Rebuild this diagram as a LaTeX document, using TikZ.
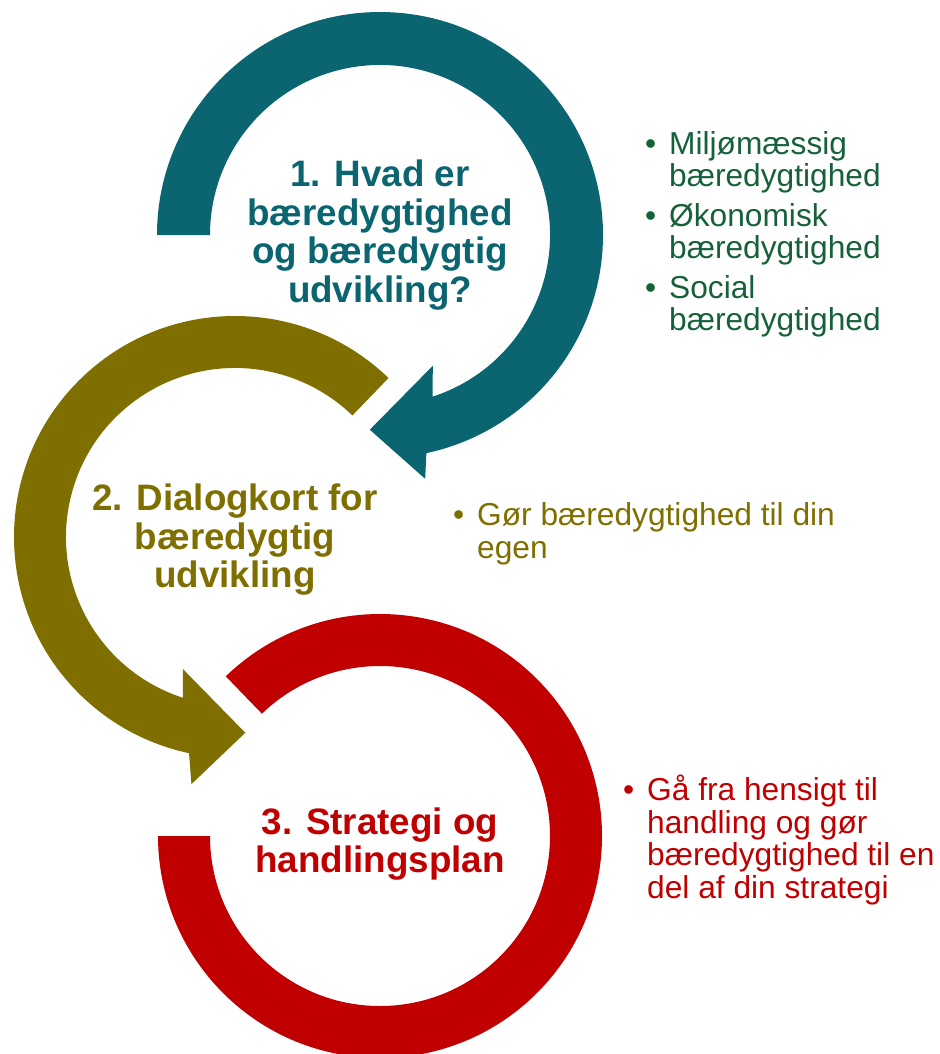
\documentclass[tikz,border=0pt]{standalone}
\usepackage{fontspec}
\setmainfont{Liberation Sans}
\usepackage{tikz}
\usetikzlibrary{calc}
\definecolor{petrol}{HTML}{0A6570}
\definecolor{oliven}{HTML}{7F6F00}
\definecolor{moerkroed}{HTML}{C00000}
\definecolor{skovgroen}{HTML}{17613A}
\tikzstyle{titel}=[align=center,inner sep=0pt,font=\fontsize{36.8}{38.5}\selectfont\bfseries]
\tikzstyle{punkt}=[align=left,anchor=base west,inner sep=0pt,font=\fontsize{31.7}{32.5}\selectfont]
\newcommand{\pkt}{\llap{\textbullet\hspace{13pt}}}

\begin{document}
\begin{tikzpicture}[x=1pt,y=1pt]
\clip (0,0) rectangle (939,-1054);
\coordinate (c1) at (380,-235);
\coordinate (c2) at (235,-537);
\coordinate (c3) at (380,-836);
% ring 1 with arrow
\fill[petrol] ($(c1)+(180:223)$) arc[start angle=180,end angle=-78,radius=223]
  -- ($(c1)+(-79.5:248)$) -- ($(c1)+(-93:195)$) -- ($(c1)+(-68:141)$)
  -- ($(c1)+(-72:170)$) arc[start angle=-72,end angle=180,radius=170] -- cycle;
% ring 2 with arrow
\fill[oliven] ($(c2)+(46:221)$) arc[start angle=46,end angle=258,radius=221]
  -- ($(c2)+(260:251)$) -- ($(c2)+(273:196)$) -- ($(c2)+(248.5:142)$)
  -- ($(c2)+(252:169)$) arc[start angle=252,end angle=46,radius=169] -- cycle;
% ring 3
\fill[moerkroed] ($(c3)+(134:222)$) arc[start angle=134,end angle=-180,radius=222]
  -- ($(c3)+(180:170)$) arc[start angle=-180,end angle=134,radius=170] -- cycle;

\node[titel,text=petrol] (t1) at (c1) {1. Hvad er\\bæredygtighed\\og bæredygtig\\udvikling?};
\node[titel,text=oliven] (t2) at ([yshift=-3]c2) {2. Dialogkort for\\bæredygtig\\udvikling};
\node[titel,text=moerkroed] (t3) at ([yshift=-8]c3) {3. Strategi og\\handlingsplan};

% base = last line
\node[punkt,text=skovgroen,font=\fontsize{31.7}{31.5}\selectfont] (l1) at (669,-330) {\pkt Miljømæssig\\bæredygtighed\\[9pt]\pkt Økonomisk\\bæredygtighed\\[9pt]\pkt Social\\bæredygtighed};
\node[punkt,text=oliven] (l2) at (477,-558) {\pkt Gør bæredygtighed til din\\egen};
\node[punkt,text=moerkroed] (l3) at (647,-898) {\pkt Gå fra hensigt til\\handling og gør\\bæredygtighed til en\\del af din strategi};
\end{tikzpicture}
\end{document}
